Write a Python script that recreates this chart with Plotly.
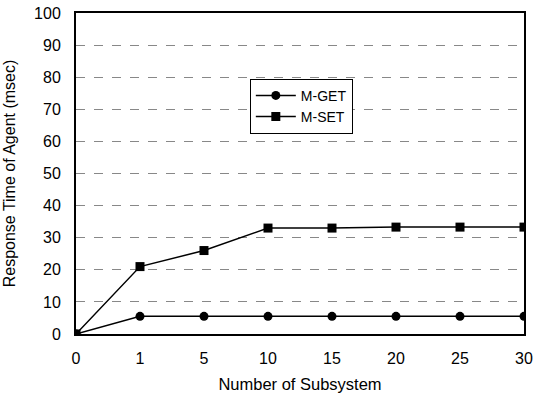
import plotly.graph_objects as go

subsystems = ["0", "1", "5", "10", "15", "20", "25", "30"]
m_get = [0, 5.5, 5.5, 5.5, 5.5, 5.5, 5.5, 5.5]
m_set = [0, 21, 26, 33, 33, 33.3, 33.3, 33.3]
y_ticks = [0, 10, 20, 30, 40, 50, 60, 70, 80, 90, 100]

fig = go.Figure()
fig.add_trace(go.Scatter(x=subsystems, y=m_get, name="M-GET", mode="lines+markers",
                         line=dict(color="black", width=1.5),
                         marker=dict(symbol="circle", size=9, color="black")))
fig.add_trace(go.Scatter(x=subsystems, y=m_set, name="M-SET", mode="lines+markers",
                         line=dict(color="black", width=1.5),
                         marker=dict(symbol="square", size=9, color="black")))

fig.update_layout(
    width=535, height=393,
    margin=dict(l=76, r=11, t=13, b=59),
    paper_bgcolor="white", plot_bgcolor="white",
    font=dict(family="Liberation Sans, Arial", color="black", size=16),
    showlegend=True,
    legend=dict(x=0.388, y=0.795, xanchor="left", yanchor="top",
                bordercolor="black", borderwidth=1, bgcolor="white",
                font=dict(size=14), tracegroupgap=0, itemwidth=40),
)
fig.update_xaxes(type="category", range=[0, 7], showline=True, linecolor="black",
                 linewidth=2, mirror=True, showgrid=False, ticks="", automargin=False,
                 ticklabelstandoff=9,
                 title=dict(text="Number of Subsystem", font=dict(size=16.5), standoff=12))
fig.update_yaxes(range=[0, 100], tickvals=y_ticks, showline=True, linecolor="black",
                 linewidth=2, mirror=True, showgrid=True, gridcolor="#888888",
                 griddash="dash", gridwidth=1, zeroline=False, ticks="", automargin=False,
                 ticklabelstandoff=10,
                 title=dict(text="Response Time of Agent (msec)", font=dict(size=16), standoff=14))
fig.write_html("out.html", post_script="document.body.style.margin='0';",
               config={"displayModeBar": False})
